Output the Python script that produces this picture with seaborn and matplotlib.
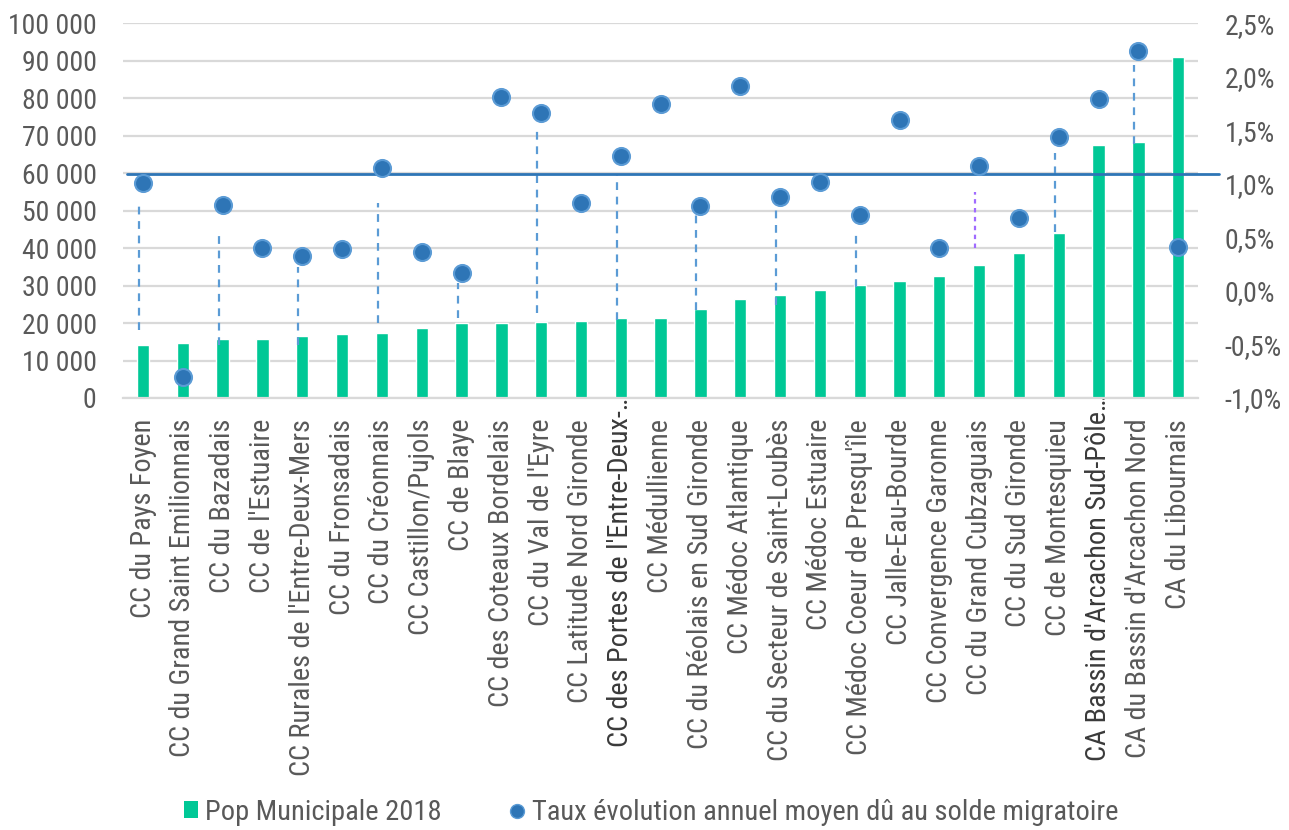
import matplotlib
matplotlib.use("Agg")
import matplotlib.pyplot as plt
import matplotlib.ticker as mticker
import matplotlib.transforms as mtransforms
from matplotlib import font_manager as fm
from matplotlib.lines import Line2D
from matplotlib.patches import Patch
import seaborn as sns
import pandas as pd

# ---------------- data ----------------
categories = [
    "CC du Pays Foyen", "CC du Grand Saint Emilionnais", "CC du Bazadais",
    "CC de l'Estuaire", "CC Rurales de l'Entre-Deux-Mers", "CC du Fronsadais",
    "CC du Créonnais", "CC Castillon/Pujols", "CC de Blaye",
    "CC des Coteaux Bordelais", "CC du Val de l'Eyre", "CC Latitude Nord Gironde",
    "CC des Portes de l'Entre-Deux-…", "CC Médullienne", "CC du Réolais en Sud Gironde",
    "CC Médoc Atlantique", "CC du Secteur de Saint-Loubès", "CC Médoc Estuaire",
    "CC Médoc Coeur de Presqu'île", "CC Jalle-Eau-Bourde", "CC Convergence Garonne",
    "CC du Grand Cubzaguais", "CC du Sud Gironde", "CC de Montesquieu",
    "CA Bassin d'Arcachon Sud-Pôle…", "CA du Bassin d'Arcachon Nord", "CA du Libournais",
]
pop_2018 = [
    14100, 14550, 15700, 15700, 16600, 17100, 17450, 18700, 19950,
    19950, 20300, 20500, 21300, 21450, 23800, 26500, 27400, 28850,
    30050, 31300, 32550, 35500, 38700, 44100, 67450, 68250, 90900,
]
taux_migr = [
    1.01, -0.80, 0.80, 0.40, 0.33, 0.39, 1.15, 0.36, 0.17,
    1.81, 1.66, 0.82, 1.26, 1.75, 0.79, 1.91, 0.88, 1.02,
    0.71, 1.60, 0.40, 1.17, 0.68, 1.44, 1.79, 2.24, 0.41,
]
reference_rate = 1.09  # horizontal reference line (right axis)

# dashed connector lines (left axis units)
connector_cats = [
    "CC du Pays Foyen", "CC du Bazadais", "CC Rurales de l'Entre-Deux-Mers",
    "CC du Créonnais", "CC de Blaye", "CC du Val de l'Eyre",
    "CC des Portes de l'Entre-Deux-…", "CC du Réolais en Sud Gironde",
    "CC du Secteur de Saint-Loubès", "CC Médoc Coeur de Presqu'île",
    "CC du Grand Cubzaguais", "CC de Montesquieu", "CA du Bassin d'Arcachon Nord",
]
connector_low = [18200, 14200, 14200, 20050, 21400, 22700, 20850, 23500, 24850, 29550, 39950, 44350, 67900]
connector_high = [52500, 44550, 35050, 52000, 30600, 71950, 59450, 53850, 51200, 44600, 54850, 65400, 88750]
highlight_labels = ["CC des Portes de l'Entre-Deux-…", "CA Bassin d'Arcachon Sud-Pôle…"]

# ---------------- font choice ----------------
sns.set_theme(style="white")
_fonts = fm.fontManager.ttflist
_names = {f.name for f in _fonts}
family, stretch, scale = None, "normal", 1.0
for cand in ["Liberation Sans Narrow", "Arial Narrow", "Roboto Condensed",
             "Open Sans Condensed", "Noto Sans Condensed", "Noto Sans Display Condensed"]:
    if cand in _names:
        family = cand
        break
if family is None:
    for f in _fonts:
        if ("Narrow" in f.name or "Condensed" in f.name) and "Mono" not in f.name \
                and "Serif" not in f.name and "CJK" not in f.name:
            family = f.name
            break
if family is None:
    for base in ["Roboto", "Noto Sans", "Open Sans"]:
        if any(f.name == base and str(f.stretch) in ("condensed", "semi-condensed", "extra-condensed", "75", "87.5")
               for f in _fonts):
            family, stretch = base, "condensed"
            break
if family is None:
    family, scale = "Liberation Sans", 0.86
plt.rcParams["font.family"] = [family, "Liberation Sans", "DejaVu Sans"]
plt.rcParams["font.stretch"] = stretch
FS_TICK = 20 * scale
FS_CAT = 20.3 * scale
FS_LEG = 20.5 * scale

BAR_C = "#00C896"
DOT_C = "#2E75B6"
DOT_EDGE = "#5B9BD5"
GRID_C = "#D9D9D9"
TXT_C = "#595959"

df = pd.DataFrame({"cat": categories, "pop": pop_2018, "taux": taux_migr})

fig = plt.figure(figsize=(12.89, 8.30), dpi=100)
ax = fig.add_axes([0.0955, 0.5205, 0.834, 0.4515])

sns.barplot(data=df, x="cat", y="pop", ax=ax, color=BAR_C, width=0.31,
            saturation=1, zorder=2)
ax.set_ylim(0, 100000)
ax.set_xlim(-0.5, len(categories) - 0.5)
ax.yaxis.set_major_locator(mticker.MultipleLocator(10000))
ax.yaxis.set_major_formatter(mticker.FuncFormatter(lambda v, p: f"{int(v):,}".replace(",", " ")))
ax.grid(axis="y", color=GRID_C, linewidth=1.6, zorder=0)
ax.set_axisbelow(True)
for s in ["top", "right", "left"]:
    ax.spines[s].set_visible(False)
ax.spines["bottom"].set_color(GRID_C)
ax.spines["bottom"].set_linewidth(1.6)
ax.set_xlabel("")
ax.set_ylabel("")
ax.tick_params(axis="y", length=0, pad=19, labelsize=FS_TICK, labelcolor=TXT_C)
ax.tick_params(axis="x", length=0, pad=15, labelsize=FS_CAT, labelcolor=TXT_C)
ax.set_xticks(range(len(categories)))
ax.set_xticklabels(categories, rotation=90, ha="center", va="top")
for lbl in ax.get_xticklabels():
    if lbl.get_text() in highlight_labels:
        lbl.set_color("#3A3A3A")
        lbl.set_transform(lbl.get_transform() +
                          mtransforms.ScaledTranslation(0, 0.25, fig.dpi_scale_trans))

# connectors
pos = {c: i for i, c in enumerate(categories)}
for c, lo, hi in zip(connector_cats, connector_low, connector_high):
    col = "#A06BFF" if c == "CC du Grand Cubzaguais" else DOT_EDGE
    dash = (2, 2) if c == "CC du Grand Cubzaguais" else (3.5, 3)
    ax.plot([pos[c] - 0.1, pos[c] - 0.1], [lo, hi], color=col, lw=1.6,
            dashes=dash, zorder=3)

ax2 = ax.twinx()
sns.scatterplot(data=df, x="cat", y="taux", ax=ax2, color=DOT_C, s=150,
                edgecolor=DOT_EDGE, linewidth=1.5, zorder=4, legend=False)
ax2.set_ylim(-1.0, 2.5)
ax2.set_xlim(-0.5, len(categories) - 0.5)
ax2.yaxis.set_major_locator(mticker.MultipleLocator(0.5))
ax2.yaxis.set_major_formatter(mticker.FuncFormatter(lambda v, p: f"{v:.1f}%".replace(".", ",")))
ax2.tick_params(axis="y", length=0, pad=19, labelsize=FS_TICK, labelcolor=TXT_C)
ax2.set_ylabel("")
ax2.set_xlabel("")
for s in ["top", "right", "left", "bottom"]:
    ax2.spines[s].set_visible(False)
ax2.grid(False)
ax2.axhline(reference_rate, xmin=0.004, xmax=1.019, color=DOT_C, lw=2.0,
            clip_on=False, zorder=3)

handles = [
    Patch(facecolor=BAR_C, edgecolor="none", label="Pop Municipale 2018"),
    Line2D([], [], marker="o", linestyle="none", markersize=10,
           markerfacecolor=DOT_C, markeredgecolor=DOT_EDGE,
           label="Taux évolution annuel moyen dû au solde migratoire"),
]
leg = fig.legend(handles=handles, loc="lower center", bbox_to_anchor=(0.505, -0.026),
                 ncol=2, frameon=False, fontsize=FS_LEG, handlelength=0.5,
                 handleheight=0.55, handletextpad=0.25, columnspacing=2.4)
for t in leg.get_texts():
    t.set_color(TXT_C)

fig.savefig("out.png", dpi=100)
